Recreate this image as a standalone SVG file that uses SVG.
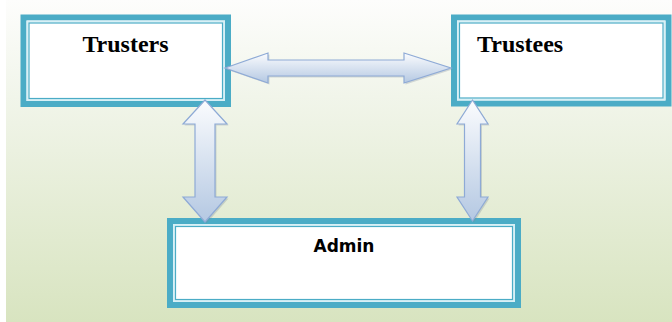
<svg xmlns="http://www.w3.org/2000/svg" width="672" height="322" viewBox="0 0 672 322">
<style>
.outer{fill:#ffffff;stroke:#4bacc6;stroke-width:6}
.gap{fill:none;stroke:#d8f0f6;stroke-width:2}
.inner{fill:#ffffff;stroke:#4bacc6;stroke-width:1.2}
.arrow{fill:url(#ag);stroke:#8eaad6;stroke-width:1.2;stroke-linejoin:miter}
.shadow{fill:#7f8b99;opacity:0.3}
.serif{font-family:"Liberation Serif","Times New Roman",serif;font-weight:bold;font-size:24px;fill:#000}
.sans{font-family:"DejaVu Sans",Verdana,sans-serif;font-weight:bold;font-size:17px;fill:#000}
</style>
<defs>
<linearGradient id="bg" x1="0" y1="0" x2="0" y2="1">
<stop offset="0" stop-color="#fdfdfc"/>
<stop offset="0.3" stop-color="#f1f5ea"/>
<stop offset="1" stop-color="#d8e4c0"/>
</linearGradient>
<linearGradient id="ag" x1="0" y1="0" x2="0" y2="1">
<stop offset="0" stop-color="#fbfcfe"/>
<stop offset="1" stop-color="#b4c8e2"/>
</linearGradient>
</defs>
<rect x="0" y="0" width="672" height="322" fill="#ffffff"/>
<rect x="6" y="0" width="666" height="322" fill="url(#bg)"/>

<g id="trusters">
<rect class="outer" x="23.5" y="17.5" width="204.5" height="86.5"/>
<rect class="gap" x="27.5" y="21.5" width="196.5" height="78.5"/>
<rect class="inner" x="29" y="23" width="193.5" height="75.5"/>
<text class="serif" x="125.5" y="51.5" text-anchor="middle">Trusters</text>
</g>

<g id="trustees">
<rect class="outer" x="454" y="17.5" width="214.5" height="86"/>
<rect class="gap" x="458" y="21.5" width="206.5" height="78"/>
<rect class="inner" x="459.5" y="23" width="203.5" height="75"/>
<text class="serif" x="477" y="51.5">Trustees</text>
</g>

<g id="admin">
<rect class="outer" x="170" y="221" width="348" height="84"/>
<rect class="gap" x="174" y="225" width="340" height="76"/>
<rect class="inner" x="175.5" y="226.5" width="337" height="73"/>
<text class="sans" x="344" y="251.5" text-anchor="middle">Admin</text>
</g>

<g id="connectors">
<g transform="translate(1.5,1.5)">
<path class="shadow" d="M225,68 L268,53 L268,60 L404,60 L404,53 L451,68 L404,83 L404,76 L268,76 L268,83 Z"/>
<path class="shadow" d="M205,100 L227,124 L215,124 L215,197 L227,197 L205,222 L183,197 L195,197 L195,124 L183,124 Z"/>
<path class="shadow" d="M472.5,100 L488,124 L480.5,124 L480.5,197 L488,197 L472.5,221 L457,197 L464.5,197 L464.5,124 L457,124 Z"/>
</g>
<path class="arrow" d="M225,68 L268,53 L268,60 L404,60 L404,53 L451,68 L404,83 L404,76 L268,76 L268,83 Z"/>
<path class="arrow" d="M205,100 L227,124 L215,124 L215,197 L227,197 L205,222 L183,197 L195,197 L195,124 L183,124 Z"/>
<path class="arrow" d="M472.5,100 L488,124 L480.5,124 L480.5,197 L488,197 L472.5,221 L457,197 L464.5,197 L464.5,124 L457,124 Z"/>
</g>
</svg>
